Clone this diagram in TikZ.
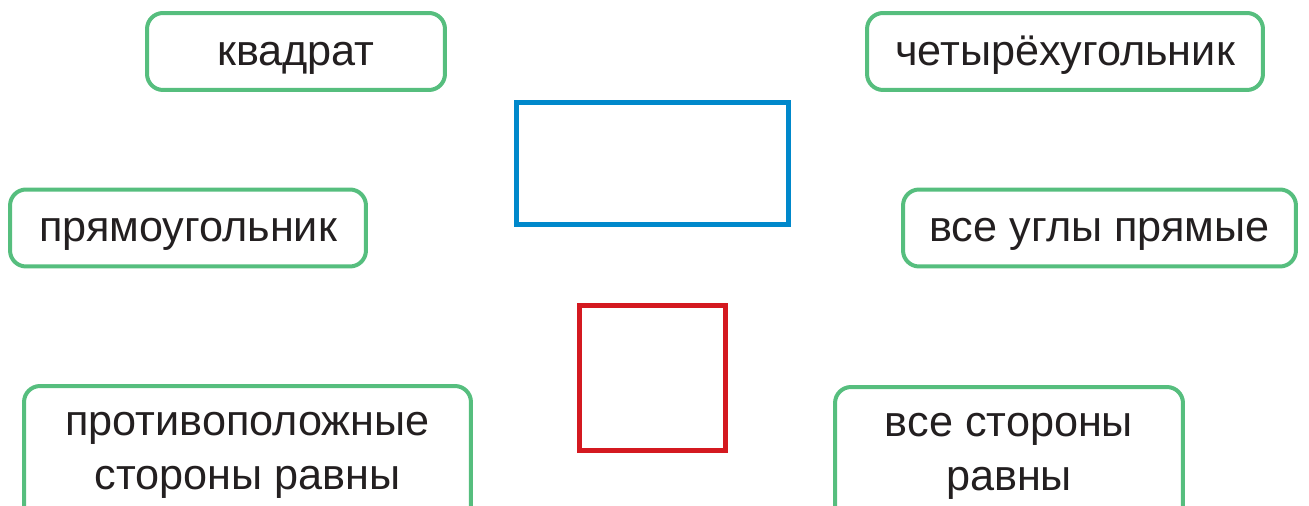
\documentclass[tikz,border=0pt]{standalone}
\usepackage{fontspec}
\setmainfont{Liberation Sans}
\usepackage{tikz}
\definecolor{ramka}{RGB}{86,190,126}
\definecolor{siniy}{RGB}{0,136,203}
\definecolor{krasny}{RGB}{212,25,32}
\definecolor{tekst}{RGB}{35,31,32}

\begin{document}
\begin{tikzpicture}[x=0.02cm, y=-0.02cm,
  tag/.style={draw=ramka, line width=0.08cm, rounded corners=0.32cm,
    minimum height=1.54cm, inner sep=0pt, text=tekst,
    font=\fontsize{24.6}{30.6}\selectfont, text height=0.62cm, text depth=0.06cm},
  tagtwo/.style={draw=ramka, line width=0.08cm, rounded corners=0.32cm,
    minimum height=2.76cm, inner sep=0pt, text=tekst, align=center,
    font=\fontsize{24.6}{30.6}\selectfont},
  figura/.style={line width=0.1cm, inner sep=0pt}]
\useasboundingbox (0,0) rectangle (1309,506);

\node[tag, minimum width=5.96cm] (kvadrat) at (296,51.5) {квадрат};
\node[tag, minimum width=7.92cm] (chetyrekh) at (1065,51.5) {четырёхугольник};
\node[tag, minimum width=7.12cm] (pryamoug) at (188,228) {прямоугольник};
\node[tag, minimum width=7.86cm] (ugly) at (1099.5,228) {все углы прямые};
\node[tagtwo, minimum width=8.94cm] (protiv) at (247.5,455) {противоположные\\стороны равны};
\node[tagtwo, minimum width=6.96cm] (vsestor) at (1009,456) {все стороны\\равны};

\node[figura, draw=siniy, minimum width=5.46cm, minimum height=2.46cm] (pryam) at (652.5,163.5) {};
\node[figura, draw=krasny, minimum width=2.92cm, minimum height=2.92cm] (kvad) at (652.5,378) {};
\end{tikzpicture}
\end{document}
